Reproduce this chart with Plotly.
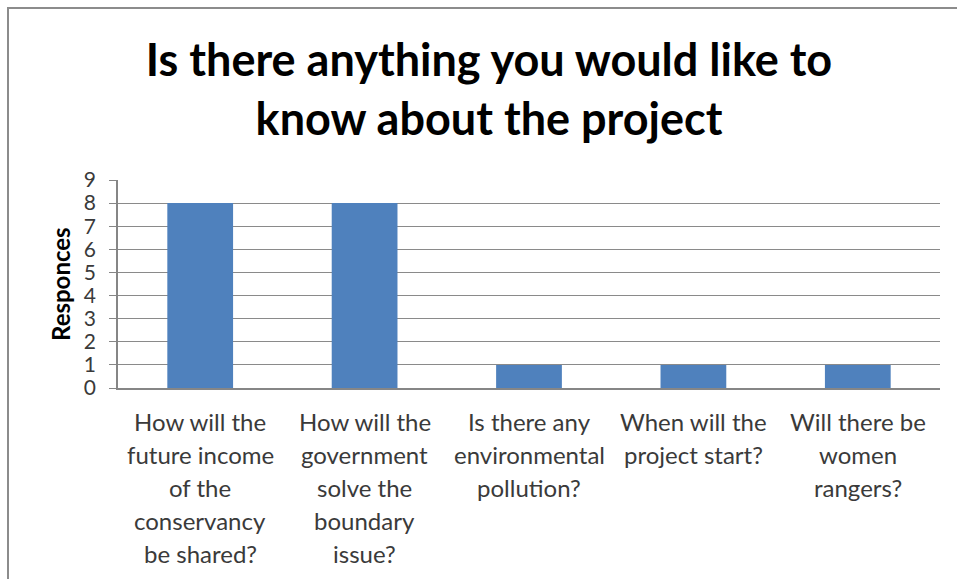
import plotly.graph_objects as go

# Survey data
categories = [
    "How will the<br>future income<br>of the<br>conservancy<br>be shared?",
    "How will the<br>government<br>solve the<br>boundary<br>issue?",
    "Is there any<br>environmental<br>pollution?",
    "When will the<br>project start?",
    "Will there be<br>women<br>rangers?",
]
responses = [8, 8, 1, 1, 1]
y_ticks = [0, 1, 2, 3, 4, 5, 6, 7, 8, 9]

W, H = 957, 579
L, R, T, B = 118, 17, 180, 191
plot_w = W - L - R
plot_h = H - T - B


def px_x(p):
    return (p - L) / plot_w


def px_y(p):
    return (H - B - p) / plot_h


fig = go.Figure()
fig.add_trace(go.Bar(
    x=list(range(len(categories))),
    y=responses,
    marker=dict(color="#4F81BD", line=dict(width=0)),
    hoverinfo="skip",
))

# Category labels, one annotation per line for wider line spacing
line_gap = 33
first_line = 421
for i, lab in enumerate(categories):
    for j, part in enumerate(lab.split("<br>")):
        fig.add_annotation(
            x=i, xref="x",
            y=px_y(first_line + j * line_gap), yref="paper",
            text=part, showarrow=False,
            xanchor="center", yanchor="middle",
            font=dict(family="Lato", size=24, color="#3a3a3a"),
        )

fig.add_annotation(
    x=px_x(60), xref="paper", y=px_y(284), yref="paper",
    text="<b>Responces</b>", textangle=-90, showarrow=False,
    xanchor="center", yanchor="middle",
    font=dict(family="Lato", size=24, color="#000000"),
)

# Chart frame (left and top edges)
fig.add_shape(type="line", xref="paper", yref="paper",
              x0=px_x(8), x1=px_x(8), y0=px_y(8), y1=px_y(H + 5),
              line=dict(color="#8c8c8c", width=2))
fig.add_shape(type="line", xref="paper", yref="paper",
              x0=px_x(7), x1=px_x(W + 5), y0=px_y(8), y1=px_y(8),
              line=dict(color="#8c8c8c", width=2))

fig.update_layout(
    width=W, height=H,
    margin=dict(l=L, r=R, t=T, b=B),
    paper_bgcolor="white", plot_bgcolor="white",
    showlegend=False,
    bargap=0.6,
    title=dict(
        text="<b>Is there anything you would like to<br>know about the project</b>",
        x=489 / W, xanchor="center",
        y=1 - 76 / H, yanchor="middle",
        font=dict(family="Lato", size=45, color="#000000"),
    ),
    xaxis=dict(
        range=[-0.5, len(categories) - 0.5],
        showticklabels=False, showgrid=False, zeroline=False,
        showline=True, linecolor="#868686", linewidth=1.5,
        fixedrange=True,
    ),
    yaxis=dict(
        range=[0, 9], tickvals=y_ticks,
        showgrid=True, gridcolor="#8a8a8a", gridwidth=1,
        showline=True, linecolor="#868686", linewidth=1.5,
        ticks="outside", ticklen=7, tickcolor="#868686",
        ticklabelstandoff=9,
        tickfont=dict(family="Lato", size=21, color="#3a3a3a"),
        zeroline=False, fixedrange=True,
    ),
)

fig.write_html("out.html")
